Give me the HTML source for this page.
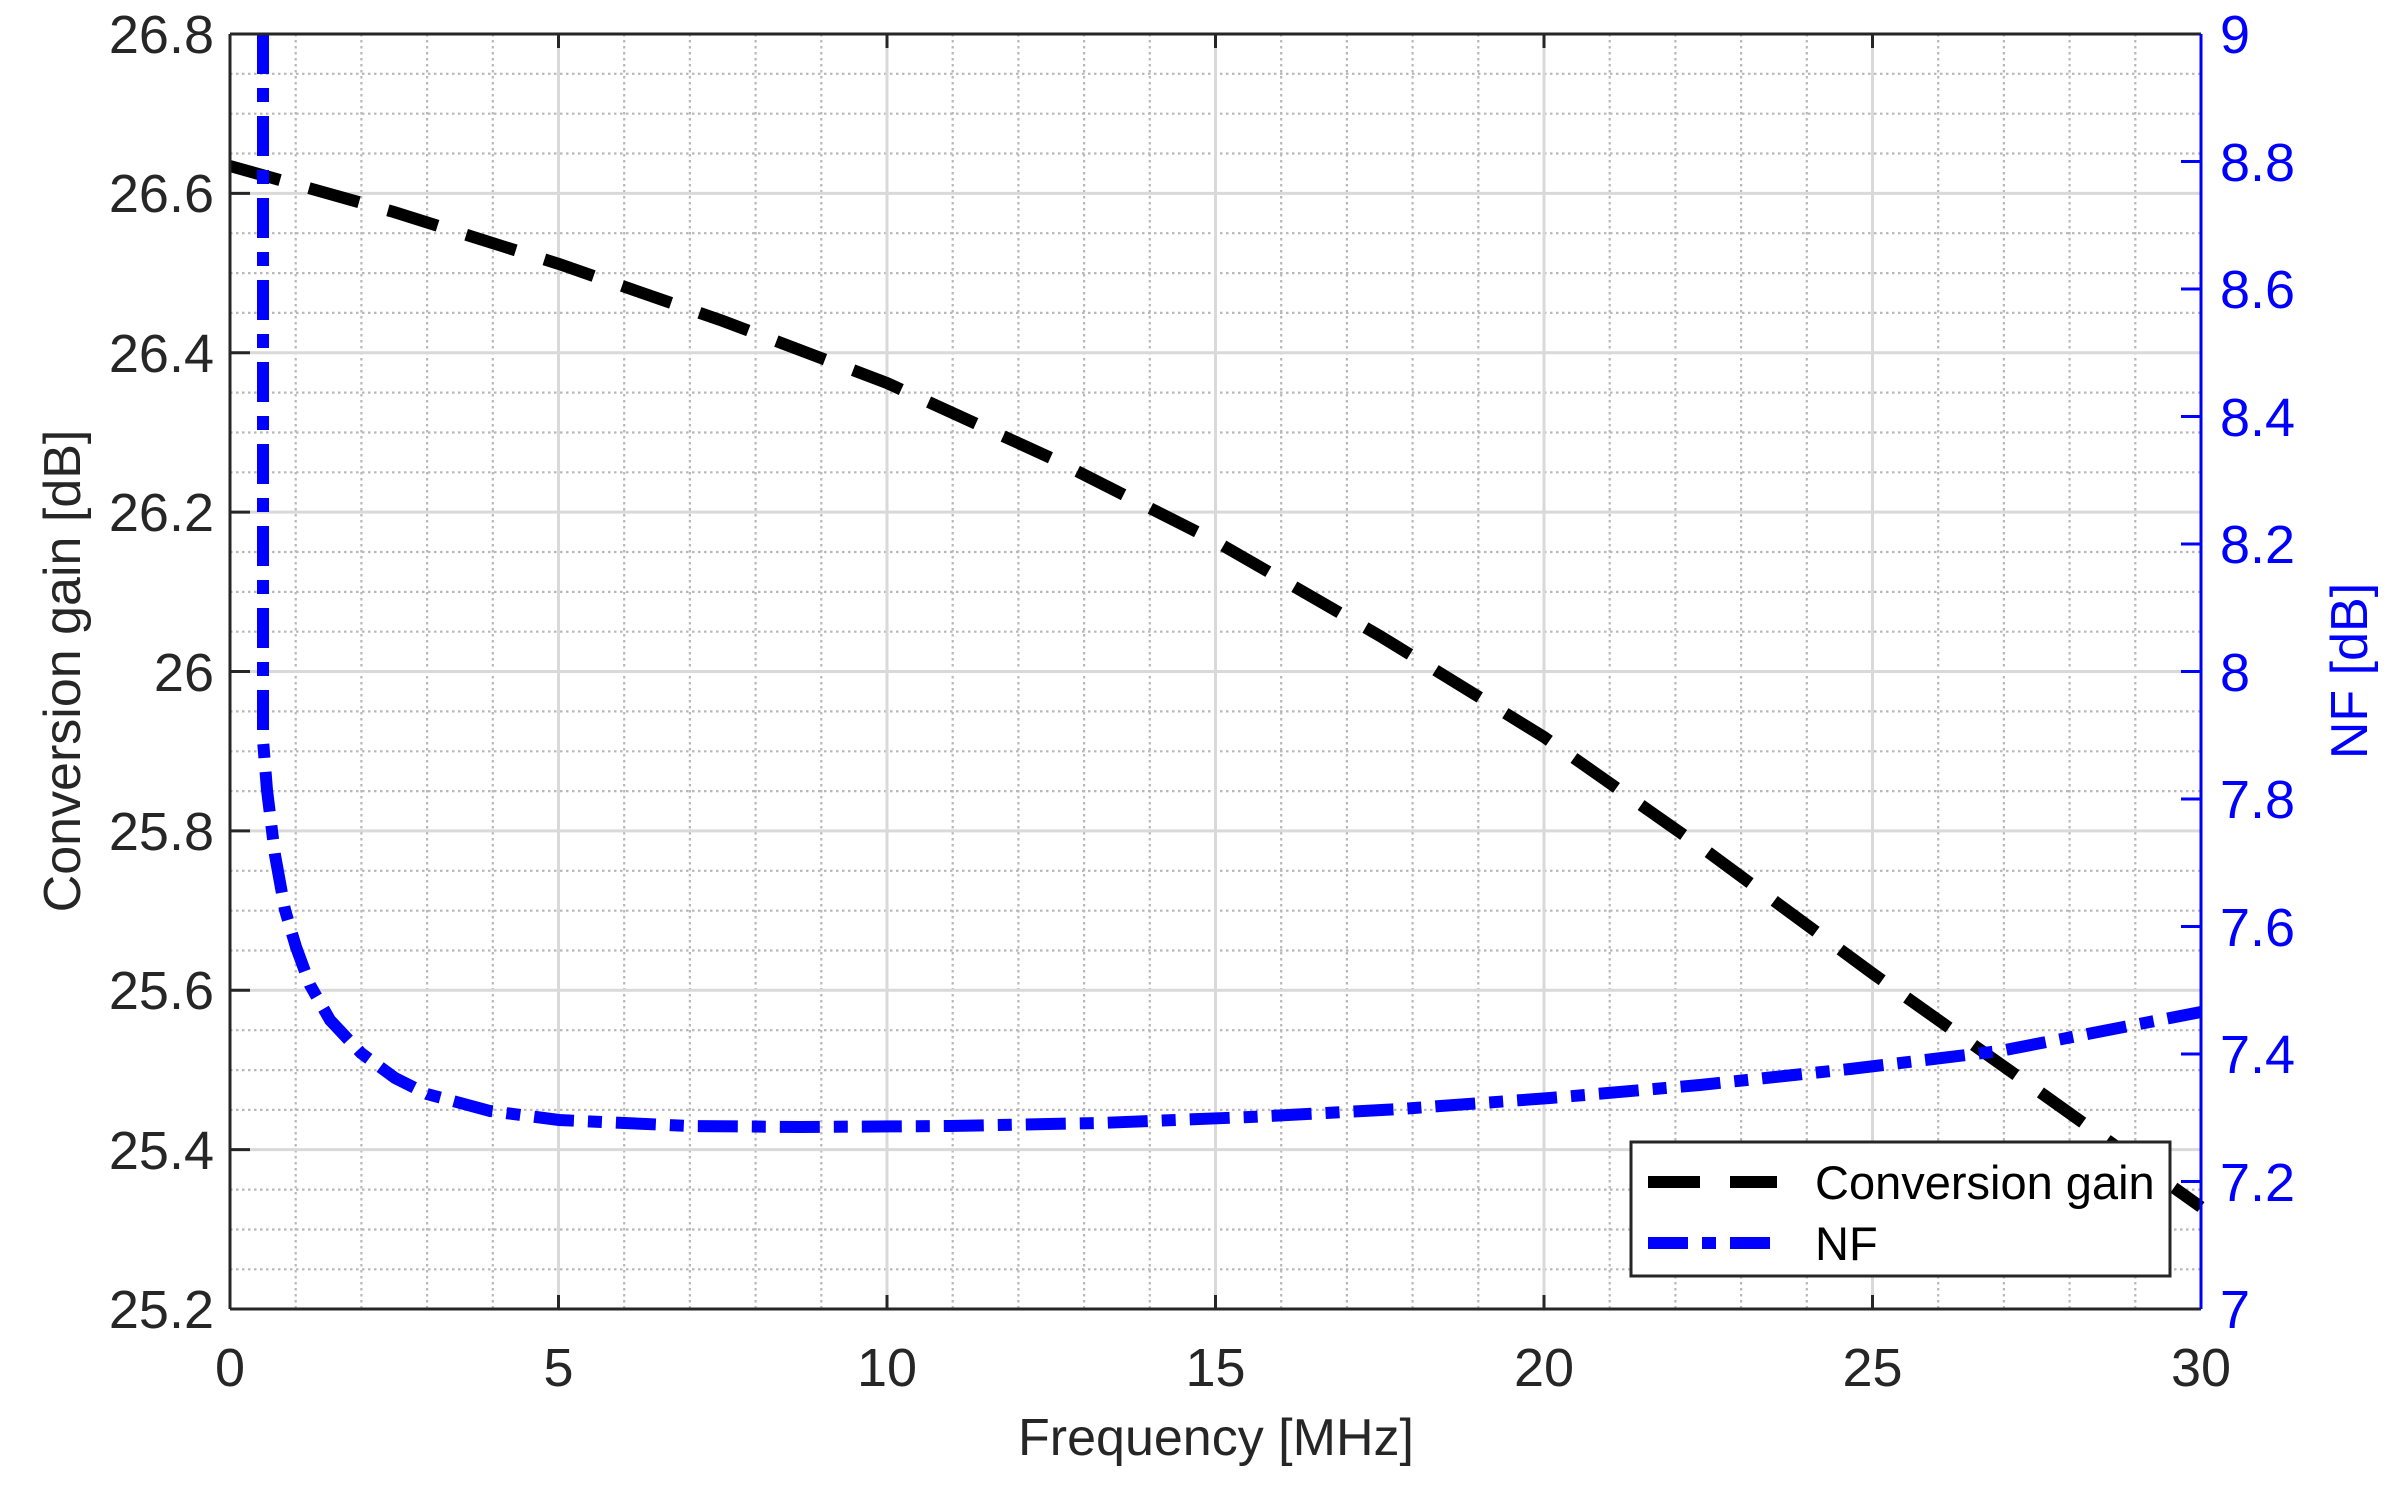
<!DOCTYPE html>
<html><head><style>
html,body{margin:0;padding:0;background:#fff;}
svg{display:block;font-family:"Liberation Sans",Arial,sans-serif;}
</style></head><body>
<svg width="2392" height="1493" viewBox="0 0 2392 1493" xmlns="http://www.w3.org/2000/svg">
<rect width="2392" height="1493" fill="#fff"/>
<g stroke="#b8b8b8" stroke-width="2.2" stroke-dasharray="2.5,3.5">
<path d="M295.7,34V1309M361.4,34V1309M427.1,34V1309M492.8,34V1309M624.2,34V1309M689.9,34V1309M755.6,34V1309M821.3,34V1309M952.7,34V1309M1018.4,34V1309M1084.1,34V1309M1149.8,34V1309M1281.2,34V1309M1346.9,34V1309M1412.6,34V1309M1478.3,34V1309M1609.7,34V1309M1675.4,34V1309M1741.1,34V1309M1806.8,34V1309M1938.2,34V1309M2003.9,34V1309M2069.6,34V1309M2135.3,34V1309"/>
<path d="M230,73.8H2201M230,113.7H2201M230,153.5H2201M230,233.2H2201M230,273.1H2201M230,312.9H2201M230,392.6H2201M230,432.5H2201M230,472.3H2201M230,552H2201M230,591.9H2201M230,631.7H2201M230,711.4H2201M230,751.3H2201M230,791.1H2201M230,870.8H2201M230,910.7H2201M230,950.5H2201M230,1030.2H2201M230,1070.1H2201M230,1109.9H2201M230,1189.6H2201M230,1229.5H2201M230,1269.3H2201"/>
</g>
<g stroke="#d9d9d9" stroke-width="3">
<path d="M558.5,34V1309M887,34V1309M1215.5,34V1309M1544,34V1309M1872.5,34V1309"/>
<path d="M230,193.4H2201M230,352.8H2201M230,512.1H2201M230,671.5H2201M230,830.9H2201M230,990.3H2201M230,1149.6H2201"/>
</g>
<polyline fill="none" stroke="#000" stroke-width="12" stroke-dasharray="52,30"
 points="230,166 394,212 559,264 723,321 887,383 1051,458 1215,541 1380,636 1544,737 1708,852 1872,973 2037,1090 2201,1207"/>
<polyline fill="none" stroke="#0000ff" stroke-width="12" stroke-dasharray="40,14,14,14"
 points="263,34 263,740 267,790 275,855 285,910 296,947 310,985 330,1020 361,1053 395,1078 427,1094 490,1111 559,1120 690,1126 800,1127 950,1126 1100,1123 1250,1117 1400,1109 1550,1098 1700,1085 1850,1069 2000,1051 2201,1012"/>
<path d="M230,34H2201M230,34V1309M230,1309H2201" fill="none" stroke="#262626" stroke-width="3"/>
<path d="M2201,34V1309" stroke="#0000ff" stroke-width="3"/>
<g stroke="#262626" stroke-width="3">
<path d="M558.5,1309v-14M887,1309v-14M1215.5,1309v-14M1544,1309v-14M1872.5,1309v-14M558.5,34v14M887,34v14M1215.5,34v14M1544,34v14M1872.5,34v14"/>
<path d="M230,193.4h20M230,352.8h20M230,512.1h20M230,671.5h20M230,830.9h20M230,990.3h20M230,1149.6h20"/>
</g>
<g stroke="#0000ff" stroke-width="3">
<path d="M2201,161.5h-20M2201,289h-20M2201,416.5h-20M2201,544h-20M2201,671.5h-20M2201,799h-20M2201,926.5h-20M2201,1054h-20M2201,1181.5h-20"/>
</g>
<g font-size="54" fill="#262626" text-anchor="end">
<text x="214" y="53">26.8</text>
<text x="214" y="212">26.6</text>
<text x="214" y="372">26.4</text>
<text x="214" y="531">26.2</text>
<text x="214" y="691">26</text>
<text x="214" y="850">25.8</text>
<text x="214" y="1009">25.6</text>
<text x="214" y="1169">25.4</text>
<text x="214" y="1328">25.2</text>
</g>
<g font-size="54" fill="#262626" text-anchor="middle">
<text x="230" y="1386">0</text>
<text x="558.5" y="1386">5</text>
<text x="887" y="1386">10</text>
<text x="1215.5" y="1386">15</text>
<text x="1544" y="1386">20</text>
<text x="1872.5" y="1386">25</text>
<text x="2201" y="1386">30</text>
</g>
<g font-size="54" fill="#0000ff">
<text x="2220" y="53">9</text>
<text x="2220" y="181">8.8</text>
<text x="2220" y="308">8.6</text>
<text x="2220" y="436">8.4</text>
<text x="2220" y="563">8.2</text>
<text x="2220" y="691">8</text>
<text x="2220" y="818">7.8</text>
<text x="2220" y="946">7.6</text>
<text x="2220" y="1073">7.4</text>
<text x="2220" y="1201">7.2</text>
<text x="2220" y="1328">7</text>
</g>
<text x="1216" y="1455" font-size="52" fill="#262626" text-anchor="middle">Frequency [MHz]</text>
<text transform="translate(80,671) rotate(-90)" font-size="52" fill="#262626" text-anchor="middle">Conversion gain [dB]</text>
<text transform="translate(2367,671) rotate(-90)" font-size="52" fill="#0000ff" text-anchor="middle">NF [dB]</text>
<rect x="1631" y="1142" width="539" height="134" fill="#fff" stroke="#262626" stroke-width="3"/>
<path d="M1648,1182H1777" stroke="#000" stroke-width="12" stroke-dasharray="52,30"/>
<path d="M1648,1243H1777" stroke="#0000ff" stroke-width="12" stroke-dasharray="40,14,14,14"/>
<g font-size="47" fill="#000">
<text x="1815" y="1199">Conversion gain</text>
<text x="1815" y="1260">NF</text>
</g>
</svg>
</body></html>
